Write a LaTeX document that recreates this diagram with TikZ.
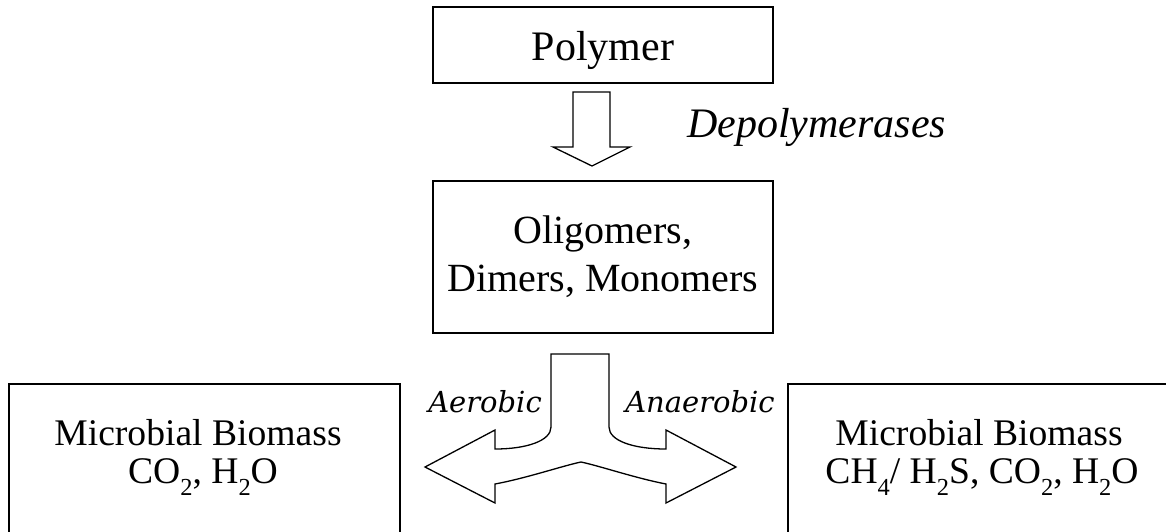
\documentclass[tikz,border=0pt]{standalone}
\usepackage{fontspec}
\setmainfont{Liberation Serif}
\newfontfamily\aerofont{DejaVu Serif}
\newcommand\mysub[1]{\raisebox{-0.32em}{\scalebox{0.65}{#1}}}
\begin{document}
\begin{tikzpicture}[x=1pt,y=-1pt,
  boxstyle/.style={draw, line width=1.6pt, inner sep=0pt, rectangle},
  lbl/.style={inner sep=0pt, anchor=base},
  blockarrow/.style={draw, line width=1.3pt, line join=miter, fill=white},
  aero/.style={inner sep=0pt, anchor=base, font=\aerofont\itshape\fontsize{29}{32}\selectfont}]
\useasboundingbox (0,0) rectangle (1166,531);
\fill[white] (0,0) rectangle (1166,531);
\clip (0,0) rectangle (1166,531);

% boxes
\node[boxstyle, minimum width=340pt, minimum height=76pt] (poly) at (603,45) {};
\node[boxstyle, minimum width=340pt, minimum height=152pt] (oligo) at (603,257) {};
\node[boxstyle, minimum width=391pt, minimum height=176pt] (aerobox) at (204.5,472) {};
\node[boxstyle, minimum width=392pt, minimum height=176pt] (anaerobox) at (984,472) {};

% texts
\node[lbl, font=\fontsize{42}{48}\selectfont] (tpoly) at (603,60) {Polymer};
\node[lbl, font=\fontsize{40}{48}\selectfont] (toligo1) at (603,243) {Oligomers,};
\node[lbl, font=\fontsize{40}{48}\selectfont] (toligo2) at (603,291) {Dimers, Monomers};
\node[lbl, anchor=base west, font=\itshape\fontsize{42}{48}\selectfont] (tdepol) at (687,137) {Depolymerases};
\node[lbl, font=\fontsize{37.6}{40}\selectfont] (ta1) at (198,445) {Microbial Biomass};
\node[lbl, font=\fontsize{37.6}{40}\selectfont] (ta2) at (203,483) {CO\mysub{2}, H\mysub{2}O};
\node[lbl, font=\fontsize{37.6}{40}\selectfont] (tb1) at (979,445) {Microbial Biomass};
\node[lbl, font=\fontsize{37.6}{40}\selectfont] (tb2) at (982,483) {CH\mysub{4}/ H\mysub{2}S, CO\mysub{2}, H\mysub{2}O};
\node[aero] (taer) at (485,412) {Aerobic};
\node[aero] (tanaer) at (700,412) {Anaerobic};

% down block arrow
\draw[blockarrow] (573,92) -- (610,92) -- (610,147) -- (630,147) -- (592,166)
  -- (553,147) -- (573,147) -- cycle;

% split block arrow
\draw[blockarrow] (551,354) -- (609,354) -- (609,427)
  .. controls (609,441) and (634,449) .. (666,449)
  -- (666,430) -- (736,467) -- (666,503) -- (666,484)
  .. controls (635,478) and (600,466) .. (581,462)
  .. controls (562,466) and (527,478) .. (495,484)
  -- (495,503) -- (425,467) -- (495,430) -- (495,449)
  .. controls (526,449) and (551,441) .. (551,427) -- cycle;
\end{tikzpicture}
\end{document}
